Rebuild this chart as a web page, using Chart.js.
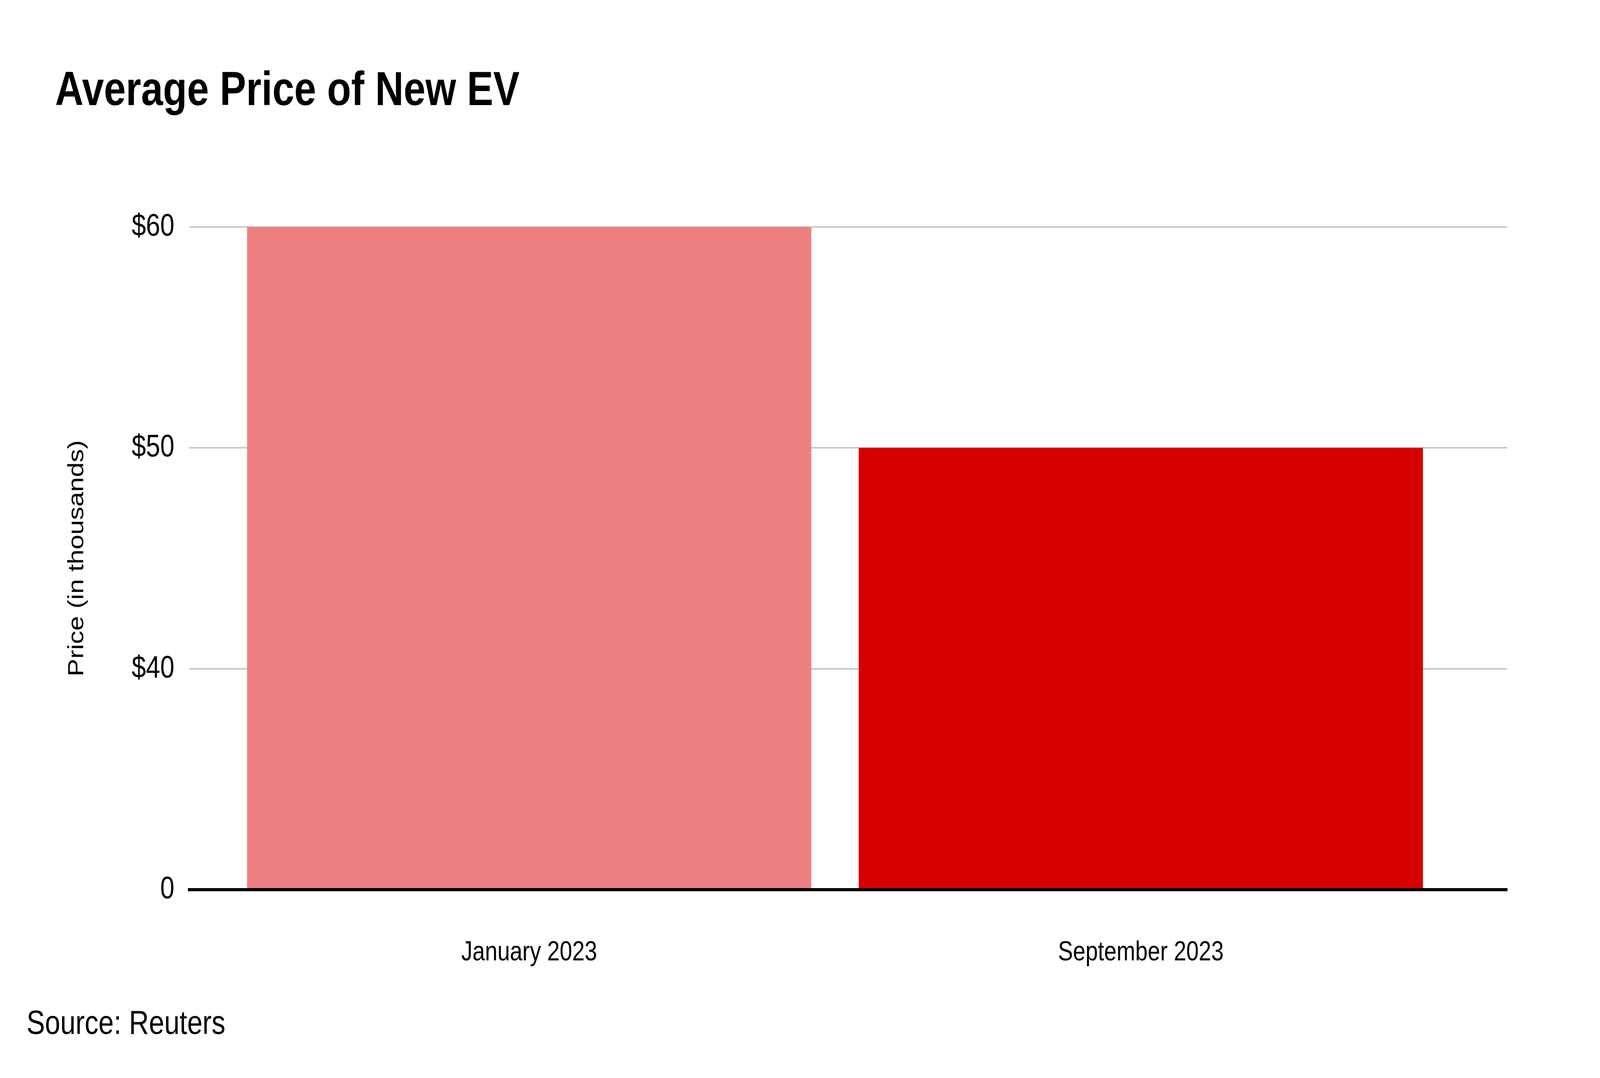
<!DOCTYPE html>
<html>
<head>
  <meta charset="UTF-8">
  <title>Average Price of New EV</title>
  <style>
    html, body { margin: 0; padding: 0; background: #fff; overflow: hidden; }
    #page { width: 5000px; height: 2759px; position: relative; transform-origin: 0 0; font-family: "Liberation Sans", Arial, sans-serif; }
    .chartBox { position: absolute; left: 0; top: 0; width: 5000px; height: 2759px; }
    h1 { position: absolute; left: 172px; top: 165px; margin: 0; font-size: 123px; line-height: 1; font-weight: bold; color: #000; white-space: nowrap; }
    .source { position: absolute; left: 83px; top: 2573px; margin: 0; font-size: 86px; line-height: 1; color: #000; white-space: nowrap; }
  </style>
</head>
<body>
  <div id="page">
    <div class="chartBox">
      <canvas id="myChart"></canvas>
    </div>
    <h1>Average Price of New EV</h1>
    <p class="source">Source: Reuters</p>
  </div>

  <script src="https://cdn.jsdelivr.net/npm/chart.js"></script>
  <script>
// data
const categories = ['January 2023', 'September 2023'];
const prices = [60, 50];
const yTickValues = [30, 40, 50, 60];
const yTickLabels = ['0', '$40', '$50', '$60'];

const barColors = ['#ee7f80', '#d70000'];
const fontFamily = '"Liberation Sans", Arial, sans-serif';

// the page is laid out at 5000px; squeeze it if the window is narrower
const sx = Math.min(1, window.innerWidth / 5000);
document.getElementById('page').style.transform = 'scaleX(' + sx + ')';

const data = {
  datasets: [{
    label: 'Price',
    data: prices.map(function (p, i) { return { x: i, y: p }; }),
    backgroundColor: barColors,
    borderWidth: 0,
    categoryPercentage: 1,
    barPercentage: 0.9225
  }]
};

const config = {
  type: 'bar',
  data,
  options: {
    responsive: true,
    maintainAspectRatio: false,
    animation: false,
    layout: {
      padding: { top: 581, right: 290, bottom: 232, left: 150 }
    },
    plugins: {
      legend: { display: false },
      tooltip: { enabled: false }
    },
    scales: {
      x: {
        type: 'linear',
        offset: false,
        min: -0.556,
        max: 1.599,
        afterBuildTicks: function (scale) {
          scale.ticks = categories.map(function (c, i) { return { value: i }; });
        },
        afterFit: function (scale) { scale.height = 250; },
        grid: { display: false, drawTicks: false, offset: false },
        border: { display: true, color: '#000', width: 8, z: 1 },
        ticks: {
          padding: 120,
          maxRotation: 0,
          autoSkip: false,
          color: '#000',
          font: { family: fontFamily, size: 70 },
          callback: function (value) { return categories[value]; }
        }
      },
      y: {
        min: 30,
        max: 60,
        afterBuildTicks: function (scale) {
          scale.ticks = yTickValues.map(function (v) { return { value: v }; });
        },
        afterFit: function (scale) { scale.width = 441; },
        grid: { color: '#c8c8c8', lineWidth: 4, drawTicks: false },
        border: { display: false },
        ticks: {
          padding: 46,
          color: '#000',
          font: { family: fontFamily, size: 80 },
          callback: function (value) { return yTickLabels[yTickValues.indexOf(value)]; }
        },
        title: {
          display: true,
          text: 'Price (in thousands)',
          color: '#000',
          padding: { top: 50, bottom: 0 },
          font: { family: fontFamily, size: 68 }
        }
      }
    }
  }
};

const myChart = new Chart(document.getElementById('myChart'), config);
  </script>
</body>
</html>
